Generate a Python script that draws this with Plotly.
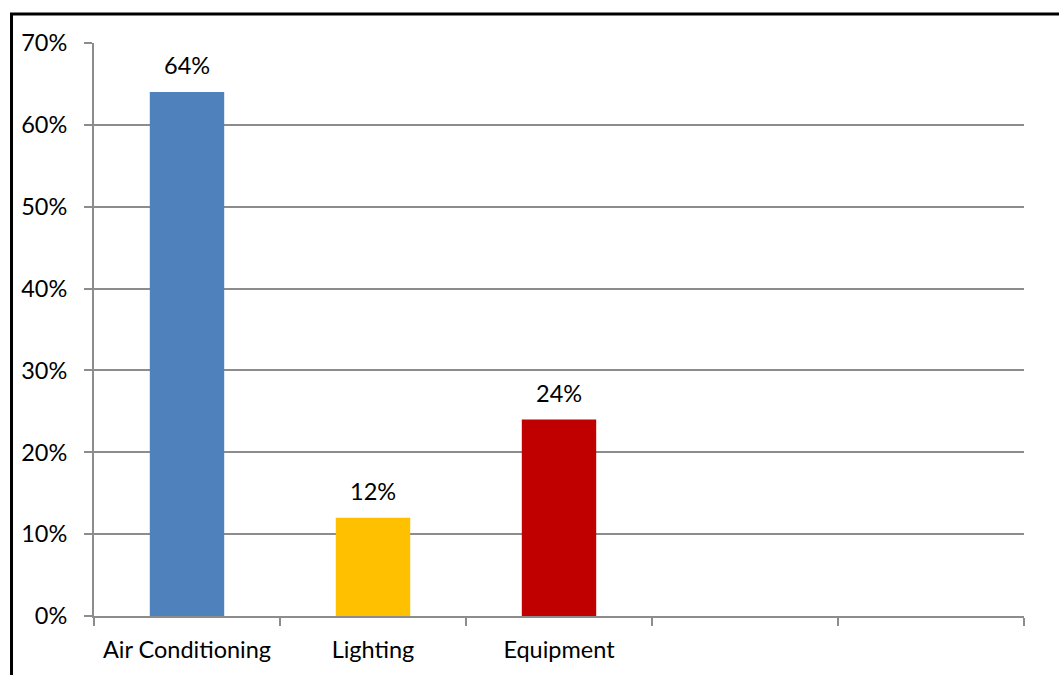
import plotly.graph_objects as go

categories = ["Air Conditioning", "Lighting", "Equipment", " ", "  "]
values = [0.64, 0.12, 0.24, None, None]
labels = ["64%", "12%", "24%", "", ""]
colors = ["#4F81BD", "#FFC000", "#C00000", "#FFFFFF", "#FFFFFF"]
yticks = [0, 0.1, 0.2, 0.3, 0.4, 0.5, 0.6, 0.7]

FONT = "Lato, Carlito, Calibri, sans-serif"
FS = 23.5

fig = go.Figure(go.Bar(
    x=categories, y=values,
    marker=dict(color=colors, line=dict(width=0)),
    width=0.4, cliponaxis=False,
))

annotations = [
    dict(x=c, y=v, xref="x", yref="y", text=t, showarrow=False,
         yshift=27, yanchor="middle",
         font=dict(family=FONT, size=FS, color="#000000"))
    for c, v, t in zip(categories, values, labels) if v is not None
]

fig.update_layout(
    width=1059, height=675,
    margin=dict(l=94, r=35, t=43, b=59),
    plot_bgcolor="white", paper_bgcolor="white",
    showlegend=False,
    font=dict(family=FONT, size=FS, color="#000000"),
    annotations=annotations,
    xaxis=dict(
        type="category", range=[-0.5, 4.5], tickson="boundaries",
        ticks="outside", ticklen=8, tickwidth=2, tickcolor="#8C8C8C",
        showline=True, linecolor="#8C8C8C", linewidth=2,
        showgrid=False, zeroline=False, ticklabelstandoff=12,
        tickfont=dict(family=FONT, size=FS, color="#000000"),
    ),
    yaxis=dict(
        range=[0, 0.7], tickvals=yticks, tickformat=".0%",
        ticks="outside", ticklen=8, tickwidth=2, tickcolor="#8C8C8C",
        showline=True, linecolor="#8C8C8C", linewidth=2,
        showgrid=True, gridcolor="#8C8C8C", gridwidth=1.5,
        zeroline=False, ticklabelstandoff=12,
        tickfont=dict(family=FONT, size=FS, color="#000000"),
    ),
    shapes=[dict(
        type="rect", xref="paper", yref="paper",
        x0=-0.0887, x1=1.2, y0=-0.3, y1=1.0506,
        line=dict(color="#000000", width=3), fillcolor="rgba(0,0,0,0)",
        layer="above",
    )],
)

fig.write_html("out.html")
